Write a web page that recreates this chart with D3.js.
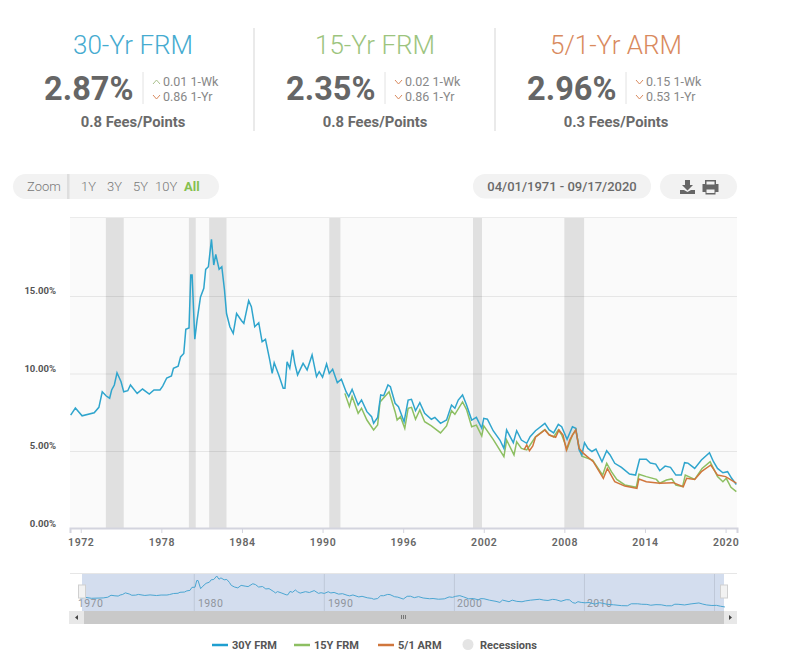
<!DOCTYPE html>
<html lang="en">
<head>
<meta charset="UTF-8"/>
<title>Mortgage rates</title>
<script src="https://d3js.org/d3.v7.min.js"></script>
<style>
	html, body { margin: 0; padding: 0; background: #fff; }
	svg { display: block; }
	text { font-family: Roboto, sans-serif; }
</style>
</head>
<body>
<script>
// values
var years30 = [1971.25,1971.6,1972.1,1973.0,1973.35,1973.6,1973.9,1974.15,1974.3,1974.5,1974.7,1975.0,1975.2,1975.5,1975.7,1976.2,1976.6,1977.1,1977.45,1977.9,1978.1,1978.4,1978.75,1978.9,1979.25,1979.43,1979.67,1979.82,1980.06,1980.19,1980.29,1980.49,1980.66,1980.91,1981.16,1981.3,1981.5,1981.73,1981.9,1982.05,1982.3,1982.5,1982.7,1982.85,1983.1,1983.35,1983.6,1983.97,1984.14,1984.5,1984.7,1984.95,1985.25,1985.5,1985.75,1986.07,1986.25,1986.4,1986.74,1987.07,1987.2,1987.36,1987.56,1987.77,1987.93,1988.14,1988.55,1988.85,1989.22,1989.55,1989.75,1990.0,1990.3,1990.5,1990.75,1991.1,1991.4,1991.75,1991.95,1992.2,1992.65,1992.9,1993.3,1993.65,1993.8,1994.1,1994.33,1994.55,1994.87,1995.05,1995.4,1995.65,1996.07,1996.37,1996.62,1996.92,1997.24,1997.6,1998.1,1998.36,1998.78,1999.23,1999.6,1999.85,2000.1,2000.42,2000.72,2001.1,2001.45,2001.85,2002.0,2002.27,2002.7,2003.2,2003.5,2003.7,2004.2,2004.45,2004.8,2005.2,2005.45,2005.85,2006.55,2006.87,2007.2,2007.55,2007.8,2008.2,2008.6,2008.85,2009.1,2009.3,2009.5,2009.75,2010.05,2010.35,2010.8,2011.15,2011.4,2011.75,2012.25,2012.85,2013.3,2013.6,2014.1,2014.4,2014.8,2015.1,2015.5,2015.9,2016.3,2016.7,2016.95,2017.2,2017.7,2018.2,2018.8,2019.1,2019.4,2019.8,2020.15,2020.45,2020.8];
var values30 = [7.35,7.8,7.3,7.5,7.85,8.85,8.58,8.44,8.97,9.29,10.08,9.5,8.85,8.92,9.29,8.75,9.03,8.71,8.97,8.97,9.22,9.74,9.87,10.37,10.5,11.1,11.33,12.88,12.97,16.39,16.39,12.24,13.48,14.95,15.53,16.75,16.92,18.69,17.03,17.72,16.75,16.92,15.42,13.9,13.05,12.62,13.9,13.44,13.27,14.73,14.34,13.05,13.31,12.08,12.24,10.9,10.04,10.73,9.94,9.08,9.08,10.79,10.37,11.55,10.69,9.94,10.69,10.26,11.23,9.83,10.15,9.79,10.65,10.04,10.3,9.44,9.66,8.86,8.54,9.01,8.0,8.32,7.57,7.25,6.82,7.2,8.65,8.6,9.29,9.18,8.11,7.89,6.92,8.32,8.37,7.63,8.15,7.46,7.08,7.2,6.82,7.03,8.0,7.79,8.32,8.65,8.0,7.03,7.2,6.5,7.14,7.08,6.34,5.74,5.2,6.39,5.57,6.34,5.74,5.53,5.95,6.34,6.82,6.39,6.2,6.75,6.6,5.78,6.6,6.5,5.1,4.78,5.57,5.2,5.0,5.16,4.34,5.05,4.78,4.24,3.98,3.55,3.48,4.5,4.5,4.26,4.19,3.76,4.06,3.98,3.48,3.48,4.28,4.25,3.91,4.45,4.92,4.34,3.91,3.63,3.7,3.27,2.87];

var years15 = [1991.66,1992.0,1992.2,1992.65,1992.9,1993.3,1993.8,1994.1,1994.28,1994.95,1995.4,1995.55,1995.8,1996.12,1996.37,1996.62,1996.92,1997.24,1997.6,1998.1,1998.78,1999.23,1999.6,1999.85,2000.42,2000.72,2001.1,2001.45,2001.85,2002.0,2002.7,2003.5,2003.7,2004.25,2004.45,2004.8,2005.2,2005.45,2005.85,2006.55,2006.87,2007.2,2007.55,2007.8,2008.2,2008.6,2008.85,2009.1,2009.3,2010.1,2010.85,2011.15,2011.5,2011.9,2012.5,2013.35,2013.55,2014.1,2014.85,2015.1,2015.6,2016.0,2016.3,2016.8,2017.0,2017.7,2018.25,2018.85,2019.4,2019.8,2020.05,2020.4,2020.8];
var values15 = [8.75,7.9,8.55,7.46,7.79,7.03,6.39,6.71,8.2,8.86,7.57,7.03,7.25,6.5,7.79,7.85,7.08,7.68,6.92,6.65,6.2,6.65,7.63,7.4,8.2,7.7,6.6,6.7,6.0,6.65,5.78,4.67,5.74,4.78,5.63,5.2,5.1,5.42,5.95,6.41,6.08,5.94,6.4,6.08,5.15,6.06,6.4,5.25,4.7,4.45,3.48,4.24,3.7,3.2,2.84,2.69,3.53,3.38,3.2,2.95,3.16,3.23,2.84,2.73,3.48,3.2,3.91,4.34,3.38,3.05,3.27,2.69,2.41];

var yearsArm = [2005.0,2005.2,2005.4,2005.65,2005.85,2006.55,2006.87,2007.35,2007.6,2007.9,2008.15,2008.4,2008.6,2008.85,2009.1,2009.42,2010.15,2010.9,2011.2,2011.75,2012.5,2013.4,2013.55,2014.1,2015.1,2016.1,2016.85,2017.1,2017.7,2018.2,2018.9,2019.4,2020.0,2020.8];
var valuesArm = [5.1,5.42,5.05,5.36,5.92,6.39,6.06,5.92,6.39,6.06,5.1,5.74,6.06,6.39,5.2,4.88,4.34,3.27,3.91,3.05,2.77,2.62,3.23,3.05,2.95,2.99,2.73,3.27,3.2,3.7,4.13,3.48,3.38,2.96];

var recessionStart = [1973.87,1980.05,1981.56,1990.5,2001.2,2008.0];
var recessionEnd = [1975.2,1980.56,1982.85,1991.33,2001.87,2009.47];

var yTicks = [0,5,10,15];
var xTicks = [1972,1978,1984,1990,1996,2002,2008,2014,2020];
var navTicks = [1980,1990,2000,2010,2020];
var navLabels = [1970,1980,1990,2000,2010];

var cardTitles = ["30-Yr FRM","15-Yr FRM","5/1-Yr ARM"];
var cardRates = ["2.87%","2.35%","2.96%"];
var cardWeek = ["0.01 1-Wk","0.02 1-Wk","0.15 1-Wk"];
var cardYear = ["0.86 1-Yr","0.86 1-Yr","0.53 1-Yr"];
var cardWeekUp = [true,false,false];
var cardFees = ["0.8 Fees/Points","0.8 Fees/Points","0.3 Fees/Points"];
var zoomLabels = ["1Y","3Y","5Y","10Y","All"];
var legendLabels = ["30Y FRM","15Y FRM","5/1 ARM"];

var blue = "#2fa5cd", green = "#8dbf62", orange = "#d0763c";
var w = 800, h = 667;

var svg = d3.select("body").append("svg")
	.attr("width", w)
	.attr("height", h);

// header cards
var cardX = [133,375,616];
var cardColors = ["#45abd0","#9cc47e","#d98a5e"];
var card = svg.selectAll("g.card")
	.data(cardTitles)
	.enter()
	.append("g")
	.attr("class", "card")
	.attr("transform", function(d, i){ return "translate(" + cardX[i] + ",0)"; });

card.append("text")
	.text(function(d){ return d; })
	.attr("y", 54)
	.attr("text-anchor", "middle")
	.attr("font-size", 26)
	.attr("font-weight", 300)
	.attr("fill", function(d, i){ return cardColors[i]; });

card.append("text")
	.text(function(d, i){ return cardRates[i]; })
	.attr("x", 0.5)
	.attr("y", 100)
	.attr("text-anchor", "end")
	.attr("font-size", 32.5)
	.attr("font-weight", 700)
	.attr("fill", "#666");

card.append("line")
	.attr("x1", 10).attr("x2", 10)
	.attr("y1", 72).attr("y2", 104)
	.attr("stroke", "#e2e2e2");

card.append("text")
	.text(function(d, i){ return cardWeek[i]; })
	.attr("x", 30).attr("y", 86)
	.attr("font-size", 12.5).attr("fill", "#888");

card.append("text")
	.text(function(d, i){ return cardYear[i]; })
	.attr("x", 30).attr("y", 101)
	.attr("font-size", 12.5).attr("fill", "#888");

// little chevrons
card.append("path")
	.attr("d", function(d, i){
		return cardWeekUp[i] ? "M20,84l3.5,-4l3.5,4" : "M20,80l3.5,4l3.5,-4";
	})
	.attr("fill", "none")
	.attr("stroke", function(d, i){ return cardWeekUp[i] ? "#a9c08c" : "#d98a5e"; });

card.append("path")
	.attr("d", "M20,95l3.5,4l3.5,-4")
	.attr("fill", "none")
	.attr("stroke", "#d98a5e");

card.append("text")
	.text(function(d, i){ return cardFees[i]; })
	.attr("y", 127)
	.attr("text-anchor", "middle")
	.attr("font-size", 14.8)
	.attr("font-weight", 700)
	.attr("fill", "#6a6a6a");

svg.selectAll("line.sep")
	.data([254,495])
	.enter()
	.append("line")
	.attr("class", "sep")
	.attr("x1", function(d){ return d; })
	.attr("x2", function(d){ return d; })
	.attr("y1", 28).attr("y2", 131)
	.attr("stroke", "#dcdcdc")
	.attr("stroke-width", 1.2);

// toolbar
svg.append("rect").attr("x", 13).attr("y", 174).attr("width", 206).attr("height", 25).attr("rx", 12.5).attr("fill", "#f2f2f2");
svg.append("rect").attr("x", 67).attr("y", 174).attr("width", 2.5).attr("height", 25).attr("fill", "#dedede");
svg.append("text").text("Zoom").attr("x", 27).attr("y", 191).attr("font-size", 13).attr("font-weight", 300).attr("fill", "#777");

var zoomX = [81,107,133,155,184];
svg.selectAll("text.zoom")
	.data(zoomLabels)
	.enter()
	.append("text")
	.attr("class", "zoom")
	.text(function(d){ return d; })
	.attr("x", function(d, i){ return zoomX[i]; })
	.attr("y", 191)
	.attr("font-size", 13)
	.attr("font-weight", function(d){ return d == "All" ? 700 : 300; })
	.attr("fill", function(d){ return d == "All" ? "#85c04f" : "#777"; });

svg.append("rect").attr("x", 473).attr("y", 174).attr("width", 178).attr("height", 24.5).attr("rx", 12).attr("fill", "#f2f2f2");
svg.append("text").text("04/01/1971 - 09/17/2020")
	.attr("x", 562).attr("y", 190.5)
	.attr("text-anchor", "middle")
	.attr("font-size", 13)
	.attr("font-weight", 500)
	.attr("fill", "#6a6a6a");

svg.append("rect").attr("x", 660).attr("y", 174).attr("width", 77).attr("height", 25).attr("rx", 12.5).attr("fill", "#f2f2f2");
// download icon
svg.append("path").attr("d", "M685,180h5v5h3l-5.5,5.5l-5.5,-5.5h3z M680,190h4l3.5,2l3.5,-2h4v4h-15z").attr("fill", "#666");
// printer icon
svg.append("path").attr("d", "M705,180h11v4h2.5v8h-3v2.5h-10v-2.5h-3v-8h2.5z M706.5,181.5v3h8v-3z M706.5,189.5v3.5h8v-3.5z").attr("fill", "#666").attr("fill-rule", "evenodd");

// main chart
var x = d3.scaleLinear().domain([1971.2,2020.85]).range([70,737]);
var y = d3.scaleLinear().domain([0,20]).range([529,219]);

svg.append("rect").attr("x", 70).attr("y", 218).attr("width", 667).attr("height", 310).attr("fill", "#fafafa");
svg.append("line").attr("x1", 70).attr("x2", 737).attr("y1", 217.5).attr("y2", 217.5).attr("stroke", "#ebebeb");

svg.selectAll("rect.recession")
	.data(recessionStart)
	.enter()
	.append("rect")
	.attr("class", "recession")
	.attr("x", function(d){ return x(d); })
	.attr("y", 218)
	.attr("width", function(d, i){ return x(recessionEnd[i]) - x(d); })
	.attr("height", 310)
	.attr("fill", "#e0e0e0");

svg.selectAll("line.grid")
	.data(yTicks.slice(1))
	.enter()
	.append("line")
	.attr("class", "grid")
	.attr("x1", 70).attr("x2", 737)
	.attr("y1", function(d){ return y(d); })
	.attr("y2", function(d){ return y(d); })
	.attr("stroke", "#000")
	.attr("stroke-opacity", 0.08);

var yAxis = d3.axisLeft(y)
	.tickValues(yTicks)
	.tickSize(0)
	.tickFormat(function(d){ return d3.format(".2f")(d) + "%"; });

var yG = svg.append("g")
	.attr("transform", "translate(56,0)")
	.call(yAxis);
yG.select(".domain").remove();
yG.selectAll("text")
	.attr("x", 0)
	.attr("dy", "-0.3em")
	.attr("font-family", "'Open Sans', sans-serif")
	.attr("font-size", 9.5)
	.attr("font-weight", 700)
	.attr("fill", "#555");

var xAxis = d3.axisBottom(x)
	.tickValues(xTicks)
	.tickSize(5)
	.tickPadding(6)
	.tickFormat(d3.format("d"));

var xG = svg.append("g")
	.attr("transform", "translate(0,528)")
	.call(xAxis);
xG.select(".domain").attr("stroke", "#d3d4de").attr("stroke-width", 2);
xG.selectAll("line").attr("stroke", "#d3d4de");
xG.selectAll("text")
	.attr("font-family", "'Open Sans', sans-serif")
	.attr("font-size", 10.5)
	.attr("font-weight", 600)
	.attr("letter-spacing", 0.6)
	.attr("fill", "#666");

function pairs(xs, ys){
	return xs.map(function(d, i){ return [d, ys[i]]; });
}

var line = d3.line()
	.x(function(d){ return x(d[0]); })
	.y(function(d){ return y(d[1]); });

svg.append("path").attr("d", line(pairs(years15, values15))).attr("fill", "none").attr("stroke", green).attr("stroke-width", 1.5);
svg.append("path").attr("d", line(pairs(years30, values30))).attr("fill", "none").attr("stroke", blue).attr("stroke-width", 1.5);
svg.append("path").attr("d", line(pairs(yearsArm, valuesArm))).attr("fill", "none").attr("stroke", orange).attr("stroke-width", 1.5);

// navigator
var navX = d3.scaleLinear().domain([1970,2020]).range([64.2,714.5]);
var navY = d3.scaleLinear().domain([0,18.69]).range([612.6,576]);

svg.append("line").attr("x1", 70).attr("x2", 737).attr("y1", 573.5).attr("y2", 573.5).attr("stroke", "#e6e6e6");
svg.append("rect").attr("x", 82).attr("y", 574).attr("width", 642).attr("height", 37).attr("fill", "#d3ddee");

svg.selectAll("line.navgrid")
	.data(navTicks)
	.enter()
	.append("line")
	.attr("class", "navgrid")
	.attr("x1", function(d){ return navX(d); })
	.attr("x2", function(d){ return navX(d); })
	.attr("y1", 574).attr("y2", 611)
	.attr("stroke", "#bfc8d8");

var navLabelX = [78,198,328,457,587];
svg.selectAll("text.navlabel")
	.data(navLabels)
	.enter()
	.append("text")
	.attr("class", "navlabel")
	.text(function(d){ return d; })
	.attr("x", function(d, i){ return navLabelX[i]; })
	.attr("y", 607)
	.attr("font-family", "'Open Sans', sans-serif")
	.attr("font-size", 10.5)
	.attr("letter-spacing", 0.4)
	.attr("fill", "#8f949c");

var navLine = d3.line()
	.x(function(d){ return navX(d[0]); })
	.y(function(d){ return navY(d[1]); });

svg.append("path").attr("d", navLine(pairs(years30, values30))).attr("fill", "none").attr("stroke", "#4ba6d2").attr("stroke-width", 1);

// scrollbar
svg.append("rect").attr("x", 69).attr("y", 611).attr("width", 668).attr("height", 13).attr("fill", "#c9c9c9");
svg.append("rect").attr("x", 69).attr("y", 611).attr("width", 15).attr("height", 13).attr("fill", "#e8e8e8");
svg.append("rect").attr("x", 724).attr("y", 611).attr("width", 13).attr("height", 13).attr("fill", "#e8e8e8");
svg.append("path").attr("d", "M78,615v5l-3,-2.5z").attr("fill", "#444");
svg.append("path").attr("d", "M729,615v5l3,-2.5z").attr("fill", "#444");
svg.append("path").attr("d", "M401.5,615v4M403.5,615v4M405.5,615v4").attr("stroke", "#777").attr("fill", "none");

// navigator handles
svg.selectAll("rect.handle")
	.data([82,724])
	.enter()
	.append("rect")
	.attr("class", "handle")
	.attr("x", function(d){ return d - 3.5; })
	.attr("y", 585)
	.attr("width", 7)
	.attr("height", 13)
	.attr("fill", "#f2f2f2")
	.attr("stroke", "#d0d0d0");

// legend
var legendX = [212,294,378];
var legendColors = ["#1f9fd0",green,orange];
svg.selectAll("line.legend")
	.data(legendLabels)
	.enter()
	.append("line")
	.attr("class", "legend")
	.attr("x1", function(d, i){ return legendX[i]; })
	.attr("x2", function(d, i){ return legendX[i] + 16; })
	.attr("y1", 645).attr("y2", 645)
	.attr("stroke", function(d, i){ return legendColors[i]; })
	.attr("stroke-width", 2.5);

svg.selectAll("text.legend")
	.data(legendLabels)
	.enter()
	.append("text")
	.attr("class", "legend")
	.text(function(d){ return d; })
	.attr("x", function(d, i){ return legendX[i] + 20; })
	.attr("y", 649)
	.attr("font-size", 11)
	.attr("font-weight", 700)
	.attr("fill", "#555");

svg.append("circle").attr("cx", 468).attr("cy", 644.5).attr("r", 5.5).attr("fill", "#e4e4e4");
svg.append("text").text("Recessions").attr("x", 480).attr("y", 649)
	.attr("font-size", 11).attr("font-weight", 700).attr("fill", "#555");
</script>
</body>
</html>
